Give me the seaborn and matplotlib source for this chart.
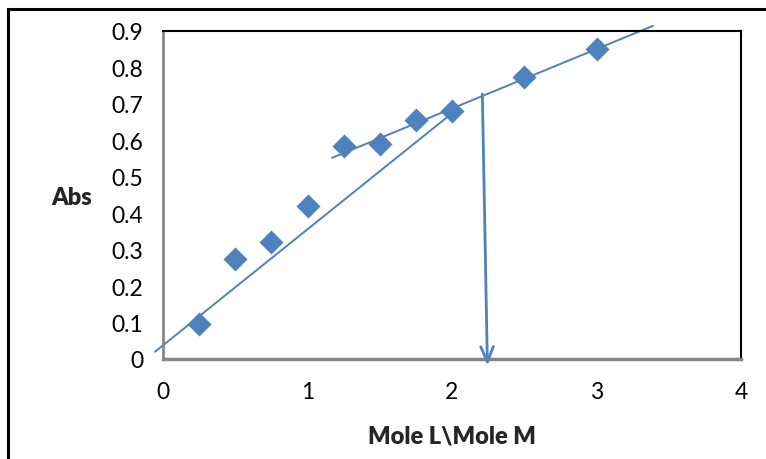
import numpy as np
import pandas as pd
import seaborn as sns
import matplotlib.pyplot as plt
from matplotlib.patches import Rectangle

# measured absorbance vs mole ratio
ratio = [0.25, 0.5, 0.75, 1.0, 1.25, 1.5, 1.75, 2.0, 2.5, 3.0]
absorb = [0.095, 0.275, 0.32, 0.42, 0.585, 0.59, 0.655, 0.68, 0.775, 0.85]

# hand drawn trend lines (end points)
line1_x = [-0.055, 1.98]
line1_y = [0.02, 0.668]
line2_x = [1.17, 3.39]
line2_y = [0.552, 0.914]

# arrow marking the break point
arrow_start = (2.21, 0.727)
arrow_end = (2.245, -0.018)

blue = '#4F81BD'
gray = '#868686'

sns.set_style('white')
plt.rcParams['font.family'] = ['Lato', 'DejaVu Sans']

fig = plt.figure(figsize=(7.66, 4.6), dpi=100)
ax = fig.add_axes([163 / 766, 1 - 360 / 460, 578 / 766, 328 / 460])

df = pd.DataFrame({'ratio': ratio, 'abs': absorb})
sns.scatterplot(data=df, x='ratio', y='abs', marker='D', s=150,
                color=blue, edgecolor=blue, linewidth=0, ax=ax, zorder=3)
sns.lineplot(x=line1_x, y=line1_y, color=blue, lw=1.4, ax=ax, clip_on=False)
sns.lineplot(x=line2_x, y=line2_y, color=blue, lw=1.4, ax=ax, clip_on=False)
ax.annotate('', xy=arrow_end, xytext=arrow_start,
            arrowprops=dict(arrowstyle='->, head_length=1.1, head_width=0.45',
                            color=blue, lw=2, shrinkA=0, shrinkB=0),
            annotation_clip=False)

ax.set_xlim(0, 4)
ax.set_ylim(0, 0.9)
ax.set_xticks([0, 1, 2, 3, 4])
ax.set_yticks(np.arange(0, 0.91, 0.1))
ax.set_yticklabels(['0'] + ['%.1f' % v for v in np.arange(0.1, 0.91, 0.1)])

for side in ['top', 'right']:
    ax.spines[side].set_color('black')
    ax.spines[side].set_linewidth(1.5)
ax.spines['left'].set_color(gray)
ax.spines['left'].set_linewidth(2)
ax.spines['bottom'].set_color(gray)
ax.spines['bottom'].set_linewidth(2.5)

ax.tick_params(axis='both', direction='out', length=5, width=1.5,
               color=gray, labelsize=16.5, labelcolor='black')
ax.tick_params(axis='y', pad=9)
ax.tick_params(axis='x', pad=11)

ax.set_xlabel('Mole L\\Mole M', fontsize=17, fontweight='heavy', labelpad=16)
ax.set_ylabel('')
fig.text(72 / 766, 1 - 198 / 460, 'Abs', fontsize=17, fontweight='heavy',
         ha='center', va='center')

# outer chart frame
fig.patches.append(Rectangle((8 / 766, -0.1), 1.0, 1 - 10 / 460 + 0.1,
                             transform=fig.transFigure, fill=False,
                             edgecolor='black', lw=2.2))

fig.savefig('out.png', dpi=100)
